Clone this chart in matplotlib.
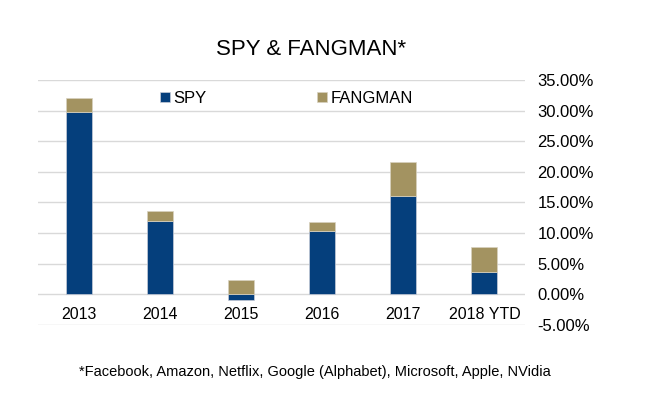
import numpy as np
import matplotlib.pyplot as plt
from matplotlib.ticker import PercentFormatter

plt.rcParams['font.family'] = ['Liberation Sans', 'DejaVu Sans']
plt.rcParams['axes.unicode_minus'] = False

years = ['2013', '2014', '2015', '2016', '2017', '2018 YTD']
spy = [29.7, 12.0, -0.9, 10.3, 16.1, 3.6]
fangman = [2.4, 1.6, 2.4, 1.5, 5.5, 4.2]

navy = '#053f7c'
khaki = '#a39361'

fig = plt.figure(figsize=(6.46, 3.99), dpi=100)
ax = fig.add_axes([0.0588, 0.1855, 0.7539, 0.614])

x = np.arange(len(years))
spy_arr = np.array(spy) / 100
fang_arr = np.array(fangman) / 100
base = np.maximum(spy_arr, 0)

ax.bar(x, spy_arr, width=0.32, color=navy, label='SPY', zorder=3,
       edgecolor='#c8cdd8', linewidth=0.5)
ax.bar(x, fang_arr, width=0.32, bottom=base, color=khaki, label='FANGMAN',
       zorder=3, edgecolor='#d8d2c0', linewidth=0.5)

ax.set_xlim(-0.5, len(years) - 0.5)
ax.set_ylim(-0.05, 0.35)
ax.set_yticks(np.arange(-0.05, 0.351, 0.05))
ax.yaxis.set_major_formatter(PercentFormatter(1.0, decimals=2))
ax.yaxis.tick_right()
ax.tick_params(axis='y', length=0, pad=9, labelsize=12)
for lbl in ax.get_yticklabels():
    lbl.set_horizontalalignment('left')

ax.set_xticks(x)
ax.set_xticklabels(years)
ax.spines['bottom'].set_position(('data', 0))
ax.tick_params(axis='x', length=0, pad=9, labelsize=11.5)

for s in ax.spines.values():
    s.set_visible(False)
ax.grid(axis='y', color='#d9d9d9', linewidth=1, zorder=0)

ax.legend(loc='center', bbox_to_anchor=(0.51, 0.925), ncol=2, frameon=False,
          fontsize=12, handlelength=0.6, handleheight=0.6, handletextpad=0.2,
          columnspacing=6.6)

fig.text(0.482, 0.875, 'SPY & FANGMAN*', ha='center', va='center', fontsize=16)
fig.text(0.487, 0.068, '*Facebook, Amazon, Netflix, Google (Alphabet), Microsoft, Apple, NVidia',
         ha='center', va='center', fontsize=10.5)

fig.savefig('out.png', dpi=100)
